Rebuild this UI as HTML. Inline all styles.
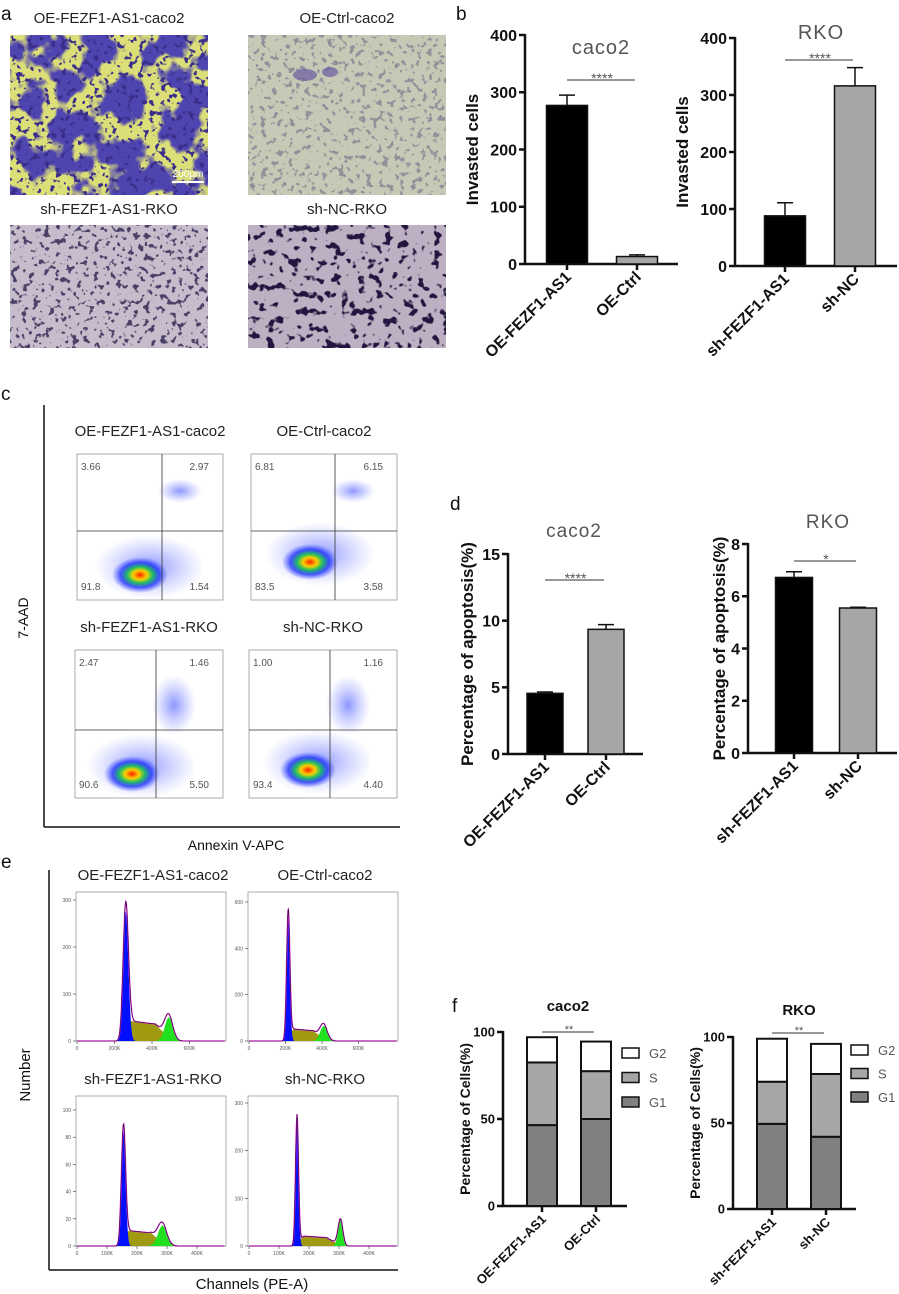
<!DOCTYPE html>
<html><head><meta charset="utf-8">
<style>
html,body{margin:0;padding:0;background:#fff;}
svg{display:block;font-family:"Liberation Sans",sans-serif;}
.ttl{font-size:15px;fill:#222;}
.tk{font-size:16px;font-weight:bold;fill:#111;}
.tks{font-size:13px;font-weight:bold;fill:#111;}
.ylab{font-size:17px;font-weight:bold;fill:#111;}
.ylabs{font-size:14px;font-weight:bold;fill:#111;}
.lbl{font-size:19px;fill:#111;}
.q{font-size:10px;fill:#555;}
.tiny{font-size:5px;fill:#555;}
</style></head><body>
<svg id="fig" width="899" height="1294" viewBox="0 0 899 1294" xmlns="http://www.w3.org/2000/svg">
<defs>
<filter id="blobs" x="0" y="0" width="100%" height="100%">
<feTurbulence type="fractalNoise" baseFrequency="0.035" numOctaves="3" seed="4" result="n"/>
<feColorMatrix in="n" type="matrix" values="0 0 0 0 0  0 0 0 0 0  0 0 0 0 0  9 0 0 0 -3.8" result="m"/>
<feComposite in="SourceGraphic" in2="m" operator="in"/>
</filter>
<filter id="specks" x="0" y="0" width="100%" height="100%">
<feTurbulence type="fractalNoise" baseFrequency="0.18" numOctaves="2" seed="7" result="n"/>
<feColorMatrix in="n" type="matrix" values="0 0 0 0 0  0 0 0 0 0  0 0 0 0 0  14 0 0 0 -8.2" result="m"/>
<feComposite in="SourceGraphic" in2="m" operator="in"/>
</filter>
<filter id="specks2" x="0" y="0" width="100%" height="100%">
<feTurbulence type="fractalNoise" baseFrequency="0.12" numOctaves="2" seed="11" result="n"/>
<feColorMatrix in="n" type="matrix" values="0 0 0 0 0  0 0 0 0 0  0 0 0 0 0  12 0 0 0 -7.0" result="m"/>
<feComposite in="SourceGraphic" in2="m" operator="in"/>
</filter>
<radialGradient id="dens">
<stop offset="0" stop-color="#ff2000"/>
<stop offset="0.25" stop-color="#ffd000"/>
<stop offset="0.45" stop-color="#20c060"/>
<stop offset="0.7" stop-color="#2030ff" stop-opacity="0.8"/>
<stop offset="1" stop-color="#4050ff" stop-opacity="0"/>
</radialGradient>
<radialGradient id="sparse">
<stop offset="0" stop-color="#3040ff" stop-opacity="0.55"/>
<stop offset="1" stop-color="#6070ff" stop-opacity="0"/>
</radialGradient>
</defs>

<g>
<text x="1" y="20" class="lbl">a</text>
<text x="109" y="23" class="ttl" text-anchor="middle">OE-FEZF1-AS1-caco2</text>
<text x="347" y="23" class="ttl" text-anchor="middle">OE-Ctrl-caco2</text>
<text x="109" y="214" class="ttl" text-anchor="middle">sh-FEZF1-AS1-RKO</text>
<text x="347" y="214" class="ttl" text-anchor="middle">sh-NC-RKO</text>
<g>
<rect x="10" y="35" width="198" height="160" fill="#dcdf78"/>
<rect x="10" y="35" width="198" height="160" fill="#4f45b0" filter="url(#blobs)"/>
<rect x="10" y="35" width="198" height="160" fill="#3a2f8a" filter="url(#specks)"/>
<line x1="172" y1="182" x2="204" y2="182" stroke="#fff" stroke-width="2"/>
<text x="188" y="177" font-size="10" fill="#fff" text-anchor="middle">200μm</text>
</g>
<g>
<rect x="248" y="35" width="198" height="160" fill="#c6c9b6"/>
<rect x="248" y="35" width="198" height="160" fill="#7a7a8e" opacity="0.7" filter="url(#specks)"/>
<ellipse cx="305" cy="75" rx="12" ry="6" fill="#6a5aa0" opacity="0.7"/>
<ellipse cx="330" cy="72" rx="8" ry="5" fill="#6a5aa0" opacity="0.7"/>
</g>
<g>
<rect x="10" y="225" width="198" height="123" fill="#c6bccb"/>
<rect x="10" y="225" width="198" height="123" fill="#2e2450" opacity="0.8" filter="url(#specks)"/>
</g>
<g>
<rect x="248" y="225" width="198" height="123" fill="#bdb0c2"/>
<rect x="248" y="225" width="198" height="123" fill="#221840" filter="url(#specks2)"/>
</g>
</g>

<text x="456" y="20" class="lbl">b</text>
<text x="1" y="400" class="lbl">c</text>
<text x="450" y="510" class="lbl">d</text>
<text x="1" y="868" class="lbl">e</text>
<text x="452" y="1012" class="lbl">f</text>

<g>
<line x1="44" y1="405" x2="44" y2="827" stroke="#111" stroke-width="1.5"/>
<line x1="44" y1="827" x2="400" y2="827" stroke="#111" stroke-width="1.5"/>
<text x="236" y="850" font-size="14" text-anchor="middle" fill="#111">Annexin V-APC</text>
<text transform="translate(28,618) rotate(-90)" font-size="14" text-anchor="middle" fill="#111">7-AAD</text>
<g id="flow"></g>
</g>

<g>
<line x1="49" y1="870" x2="49" y2="1270" stroke="#111" stroke-width="1.5"/>
<line x1="49" y1="1270" x2="398" y2="1270" stroke="#111" stroke-width="1.5"/>
<text x="252" y="1289" font-size="15" text-anchor="middle" fill="#111">Channels (PE-A)</text>
<text transform="translate(30,1075) rotate(-90)" font-size="15" text-anchor="middle" fill="#111">Number</text>
<g id="hist"></g>
</g>

<g id="bars"></g>
</svg>

<script>
const NS="http://www.w3.org/2000/svg";
function mk(tag,attrs,parent){const e=document.createElementNS(NS,tag);for(const k in attrs)e.setAttribute(k,attrs[k]);parent.appendChild(e);return e;}
const bars=document.getElementById('bars');

const bCacoCats=["OE-FEZF1-AS1","OE-Ctrl"];
const bCacoVals=[277,13];
const bCacoErr=[18,3];
const bRkoCats=["sh-FEZF1-AS1","sh-NC"];
const bRkoVals=[88,316];
const bRkoErr=[23,32];
const bTicks=[0,100,200,300,400];
const dCacoCats=["OE-FEZF1-AS1","OE-Ctrl"];
const dCacoVals=[4.55,9.35];
const dCacoErr=[0.1,0.35];
const dCacoTicks=[0,5,10,15];
const dRkoCats=["sh-FEZF1-AS1","sh-NC"];
const dRkoVals=[6.72,5.55];
const dRkoErr=[0.22,0.03];
const dRkoTicks=[0,2,4,6,8];
const fCacoCats=["OE-FEZF1-AS1","OE-Ctrl"];
const fCacoG1=[46.5,50];
const fCacoS=[36,27.5];
const fCacoG2=[14.5,17];
const fRkoCats=["sh-FEZF1-AS1","sh-NC"];
const fRkoG1=[49.5,42];
const fRkoS=[24.5,36.5];
const fRkoG2=[25,17.5];
const fTicks=[0,50,100];
const phaseNames=["G2","S","G1"];

function barChart(o){
  const g=mk('g',{},bars);
  
  
  const ymax=o.ticks[o.ticks.length-1];
  const Y=v=>o.y0-(v/ymax)*(o.y0-o.yTop);
  const X=i=>o.cx[0]+i*(o.cx[1]-o.cx[0]);
  const ya=mk('line',{x1:o.ax,y1:o.yTop-1,x2:o.ax,y2:o.y0,stroke:'#111','stroke-width':2.5},g);
  
  const xa=mk('line',{x1:o.ax-1,y1:o.y0,x2:o.axEnd,y2:o.y0,stroke:'#111','stroke-width':2.5},g);
  
  o.ticks.forEach(t=>{
    mk('line',{x1:o.ax-6,y1:Y(t),x2:o.ax,y2:Y(t),stroke:'#111','stroke-width':2.5},g);
    const tl=mk('text',{x:o.ax-8,y:Y(t)+o.fs*0.36,'text-anchor':'end',class:o.small?'tks':'tk'},g);
    tl.textContent=t;
    
  });
  const yl=mk('text',{transform:`translate(${o.ylx},${(o.y0+o.yTop)/2}) rotate(-90)`,'text-anchor':'middle',class:o.small?'ylabs':'ylab'},g);
  yl.textContent=o.ylabel;
  
  const tt=mk('text',{x:o.tx,y:o.ty,'text-anchor':'middle','font-size':o.tfs,'font-weight':o.tbold?'bold':'normal',fill:o.tbold?'#111':'#555','letter-spacing':o.tbold?0:1},g);
  tt.textContent=o.title;
  
  o.cats.forEach((c,i)=>{
    const cx=X(i);
    mk('line',{x1:cx,y1:o.y0,x2:cx,y2:o.y0+6,stroke:'#111','stroke-width':2.5},g);
    if(o.stacks){
      let base=0;
      const fills=['#808080','#a6a6a6','#ffffff'];
      o.stacks.forEach((arr,k)=>{
        const r=mk('rect',{x:cx-o.bw/2,y:Y(base+arr[i]),width:o.bw,height:Y(base)-Y(base+arr[i]),fill:fills[k],stroke:'#111','stroke-width':2},g);
        
        
        base+=arr[i];
      });
    } else {
      const v=o.vals[i],e=o.err[i];
      const r=mk('rect',{x:cx-o.bw/2,y:Y(v),width:o.bw,height:Y(0)-Y(v),fill:i==0?'#000':'#a6a6a6',stroke:'#111','stroke-width':1.5},g);
      
      
      const eb=mk('path',{d:`M${cx},${Y(v)} V${Y(v+e)} M${cx-8},${Y(v+e)} H${cx+8}`,stroke:'#111','stroke-width':1.5,fill:'none'},g);
      
    }
    const xl=mk('text',{transform:`translate(${cx+5},${o.y0+14}) rotate(-45)`,'text-anchor':'end',class:o.small?'tks':'tk'},g);
    xl.textContent=c;
    
  });
  const sl=mk('line',{x1:X(0),y1:o.sigY,x2:X(1)-2,y2:o.sigY,stroke:'#333','stroke-width':1},g);
  
  const st=mk('text',{x:(X(0)+X(1))/2,y:o.sigY+(o.small?1:3),'text-anchor':'middle','font-size':o.small?11:14,fill:'#555'},g);
  st.textContent=o.sig;
  
  if(o.stacks){
    phaseNames.forEach((p,k)=>{
      const yy=o.legY+k*o.legDy;
      const lb=mk('rect',{x:o.legX,y:yy-5,width:17,height:10,fill:['#ffffff','#a6a6a6','#808080'][k],stroke:'#111','stroke-width':1.5},g);
      
      const lt=mk('text',{x:o.legX+27,y:yy+5,'font-size':13,fill:'#555'},g);
      lt.textContent=p;
      
    });
  }
}

barChart({name:'invasion-chart-caco2',cats:bCacoCats,vals:bCacoVals,err:bCacoErr,ticks:bTicks,ax:525,axEnd:678,y0:264,yTop:35,cx:[567,637],bw:41,fs:16,ylx:478,ylabel:'Invasted cells',title:'caco2',tx:601,ty:54,tfs:20,sigY:80,sig:'****'});
barChart({name:'invasion-chart-rko',cats:bRkoCats,vals:bRkoVals,err:bRkoErr,ticks:bTicks,ax:735,axEnd:897,y0:266,yTop:38,cx:[785,855],bw:41,fs:16,ylx:688,ylabel:'Invasted cells',title:'RKO',tx:821,ty:39,tfs:20,sigY:60,sig:'****'});
barChart({name:'apoptosis-chart-caco2',cats:dCacoCats,vals:dCacoVals,err:dCacoErr,ticks:dCacoTicks,ax:508,axEnd:643,y0:754,yTop:554,cx:[545,606],bw:36,fs:16,ylx:473,ylabel:'Percentage of apoptosis(%)',title:'caco2',tx:574,ty:537,tfs:19,sigY:580,sig:'****'});
barChart({name:'apoptosis-chart-rko',cats:dRkoCats,vals:dRkoVals,err:dRkoErr,ticks:dRkoTicks,ax:748,axEnd:897,y0:753,yTop:544,cx:[794,858],bw:37,fs:16,ylx:725,ylabel:'Percentage of apoptosis(%)',title:'RKO',tx:828,ty:528,tfs:19,sigY:561,sig:'*'});
barChart({name:'cell-cycle-chart-caco2',small:true,cats:fCacoCats,stacks:[fCacoG1,fCacoS,fCacoG2],ticks:fTicks,ax:503,axEnd:627,y0:1206,yTop:1032,cx:[542,596],bw:30,fs:13,ylx:470,ylabel:'Percentage of Cells(%)',title:'caco2',tbold:true,tx:568,ty:1011,tfs:15,sigY:1032,sig:'**',legX:622,legY:1053,legDy:24.5});
barChart({name:'cell-cycle-chart-rko',small:true,cats:fRkoCats,stacks:[fRkoG1,fRkoS,fRkoG2],ticks:fTicks,ax:733,axEnd:856,y0:1209,yTop:1037,cx:[772,826],bw:30,fs:13,ylx:700,ylabel:'Percentage of Cells(%)',title:'RKO',tbold:true,tx:799,ty:1015,tfs:15,sigY:1033,sig:'**',legX:851,legY:1050,legDy:23.5});

const flowTitles=["OE-FEZF1-AS1-caco2","OE-Ctrl-caco2","sh-FEZF1-AS1-RKO","sh-NC-RKO"];
const quadUL=["3.66","6.81","2.47","1.00"];
const quadUR=["2.97","6.15","1.46","1.16"];
const quadLL=["91.8","83.5","90.6","93.4"];
const quadLR=["1.54","3.58","5.50","4.40"];
const flow=document.getElementById('flow');
const fbox=[[77,454,223,600,162,531,140,575],[251,454,397,600,335,531,310,562],[75,650,223,798,156,730,132,774],[249,650,397,798,330,730,308,770]];
fbox.forEach((b,i)=>{
  const g=mk('g',{},flow);
  
  
  const t=mk('text',{x:(b[0]+b[2])/2,y:b[1]-18,'text-anchor':'middle',class:'ttl'},g);
  t.textContent=flowTitles[i];
  
  mk('rect',{x:b[0],y:b[1],width:b[2]-b[0],height:b[3]-b[1],fill:'#fff',stroke:'#999','stroke-width':0.8},g);
  mk('ellipse',{cx:b[6]+10,cy:b[7]-8,rx:55,ry:32,fill:'url(#sparse)'},g);
  mk('ellipse',{cx:b[4]+18,cy:b[5]-(i<2?40:25),rx:22,ry:i<2?12:30,fill:'url(#sparse)'},g);
  mk('ellipse',{cx:b[6],cy:b[7],rx:28,ry:18,fill:'url(#dens)'},g);
  mk('line',{x1:b[4],y1:b[1],x2:b[4],y2:b[3],stroke:'#333','stroke-width':0.8},g);
  mk('line',{x1:b[0],y1:b[5],x2:b[2],y2:b[5],stroke:'#333','stroke-width':0.8},g);
  const vals=[[quadUL[i],b[0]+4,b[1]+16,'start'],[quadUR[i],b[2]-14,b[1]+16,'end'],[quadLL[i],b[0]+4,b[3]-10,'start'],[quadLR[i],b[2]-14,b[3]-10,'end']];
  vals.forEach(v=>{
    const q=mk('text',{x:v[1],y:v[2],'text-anchor':v[3],class:'q'},g);
    q.textContent=v[0];
    
  });
});

const histTitles=["OE-FEZF1-AS1-caco2","OE-Ctrl-caco2","sh-FEZF1-AS1-RKO","sh-NC-RKO"];
const g1Pos=[260,215,155,160];
const g1Height=[275,550,85,270];
const g1Sd=[14,9,7,5];
const sHeight=[45,55,12,22];
const g2Pos=[490,410,285,305];
const g2Height=[50,65,15,55];
const g2Sd=[22,20,15,8];
const yTicksHist=[[0,100,200,300],[0,200,400,600],[0,20,40,60,80,100],[0,100,200,300]];
const xTicksHist=[[0,200,400,600],[0,200,400,600],[0,100,200,300,400],[0,100,200,300,400]];
const hist=document.getElementById('hist');
const hbox=[[76,892,226,1041,37.5/200,300/141],[248,892,398,1041,36.5/200,600/139],[76,1096,226,1246,30/100,100/136],[248,1096,398,1246,30/100,300/143]];
const gauss=(x,m,s)=>Math.exp(-0.5*((x-m)/s)**2);
hbox.forEach((b,i)=>{
  const g=mk('g',{},hist);
  
  
  const t=mk('text',{x:(b[0]+b[2])/2+2,y:b[1]-12,'text-anchor':'middle',class:'ttl'},g);
  t.textContent=histTitles[i];
  
  mk('rect',{x:b[0],y:b[1],width:b[2]-b[0],height:b[3]-b[1],fill:'#fff',stroke:'#999','stroke-width':0.8},g);
  const X=v=>b[0]+1+v*b[4], Y=v=>b[3]-v/b[5];
  const step=2, end=(b[2]-b[0]-2)/b[4];
  const sFn=x=>{const a=g1Pos[i]-g1Sd[i]*2,c=g2Pos[i]+g2Sd[i];if(x<a||x>c)return 0;const u=(x-a)/(c-a);return sHeight[i]*Math.min(1,u*5)*Math.min(1,(1-u)*3)*(1-0.3*u);};
  const g1F=x=>g1Height[i]*gauss(x,g1Pos[i],g1Sd[i]);
  const g2F=x=>g2Height[i]*gauss(x,g2Pos[i],g2Sd[i]);
  let pS='',pG1='',pG2='',pT='';
  for(let x=0;x<=end;x+=step){
    const s=sFn(x),a=g1F(x),c=g2F(x);
    pS+=(x?'L':'M')+X(x).toFixed(1)+','+Y(s).toFixed(1);
    pG1+=(x?'L':'M')+X(x).toFixed(1)+','+Y(a).toFixed(1);
    pG2+=(x?'L':'M')+X(x).toFixed(1)+','+Y(c).toFixed(1);
    pT+=(x?'L':'M')+X(x).toFixed(1)+','+Y(s+a+c).toFixed(1);
  }
  const close=`L${X(end)},${Y(0)} L${X(0)},${Y(0)} Z`;
  const ps=mk('path',{d:pS+close,fill:'#a09a10'},g);
  const pg=mk('path',{d:pG1+close,fill:'#0010ff'},g);
  const p2=mk('path',{d:pG2+close,fill:'#20e020'},g);
  const pt=mk('path',{d:pT,fill:'none',stroke:'#ff20ff','stroke-width':1.3},g);
  const pk=mk('path',{d:pT,fill:'none',stroke:'#111','stroke-width':0.6},g);
  yTicksHist[i].forEach(v=>{
    mk('line',{x1:b[0]-3,y1:Y(v),x2:b[0],y2:Y(v),stroke:'#333','stroke-width':0.6},g);
    const tl=mk('text',{x:b[0]-5,y:Y(v)+2,'text-anchor':'end',class:'tiny'},g);
    tl.textContent=v;
    
  });
  xTicksHist[i].forEach(v=>{
    mk('line',{x1:X(v),y1:b[3],x2:X(v),y2:b[3]+3,stroke:'#333','stroke-width':0.6},g);
    const tl=mk('text',{x:X(v),y:b[3]+9,'text-anchor':'middle',class:'tiny'},g);
    tl.textContent=v?v+'K':'0';
    
  });
});
</script>
</body></html>
